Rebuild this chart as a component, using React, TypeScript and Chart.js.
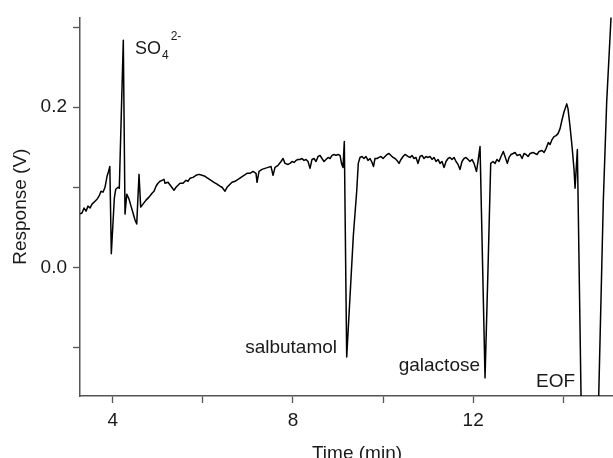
import React, { useEffect, useRef } from 'react';
import { Chart, registerables } from 'chart.js';

Chart.register(...registerables);

// ---- data ----
const times: number[] = [
  3.274, 3.319, 3.363, 3.408, 3.452, 3.496, 3.541, 3.607, 3.652, 3.696, 3.740, 3.785, 3.829, 3.874, 3.896, 3.936,
  3.969, 4.036, 4.067, 4.118, 4.146, 4.235, 4.273, 4.311, 4.362, 4.406, 4.451, 4.495, 4.533, 4.584, 4.621, 4.672,
  4.739, 4.806, 4.872, 4.917, 4.961, 5.005, 5.050, 5.094, 5.138, 5.161, 5.227, 5.294, 5.360, 5.405, 5.449, 5.494,
  5.560, 5.627, 5.671, 5.715, 5.782, 5.849, 5.915, 5.982, 6.048, 6.115, 6.182, 6.248, 6.315, 6.381, 6.426, 6.492,
  6.537, 6.603, 6.648, 6.714, 6.781, 6.847, 6.914, 6.981, 7.047, 7.114, 7.180, 7.203, 7.247, 7.313, 7.380, 7.447,
  7.513, 7.558, 7.602, 7.669, 7.735, 7.780, 7.824, 7.891, 7.935, 7.980, 8.024, 8.068, 8.113, 8.157, 8.201, 8.246,
  8.290, 8.335, 8.379, 8.423, 8.468, 8.512, 8.557, 8.601, 8.645, 8.690, 8.734, 8.779, 8.823, 8.867, 8.912, 8.956,
  9.001, 9.045, 9.078, 9.111, 9.140, 9.193, 9.340, 9.415, 9.450, 9.488, 9.533, 9.577, 9.621, 9.666, 9.710, 9.755,
  9.788, 9.821, 9.866, 9.910, 9.954, 9.999, 10.043, 10.088, 10.132, 10.176, 10.221, 10.265, 10.309, 10.354, 10.398, 10.443,
  10.487, 10.554, 10.598, 10.642, 10.687, 10.731, 10.776, 10.820, 10.864, 10.909, 10.953, 10.998, 11.042, 11.086, 11.131, 11.175,
  11.220, 11.264, 11.308, 11.353, 11.397, 11.442, 11.486, 11.530, 11.575, 11.619, 11.664, 11.708, 11.752, 11.797, 11.841, 11.886,
  11.930, 11.974, 12.019, 12.074, 12.107, 12.152, 12.263, 12.329, 12.389, 12.440, 12.485, 12.529, 12.573, 12.618, 12.669, 12.707,
  12.758, 12.796, 12.840, 12.885, 12.929, 12.973, 13.040, 13.085, 13.129, 13.173, 13.218, 13.262, 13.329, 13.373, 13.417, 13.462,
  13.528, 13.573, 13.617, 13.668, 13.706, 13.750, 13.795, 13.839, 13.883, 13.928, 13.972, 14.017, 14.077, 14.105, 14.150, 14.194,
  14.238, 14.261, 14.312, 14.394, 14.547, 14.786, 14.888, 14.963, 15.059, 15.126,
];

const responses: number[] = [
  0.0672, 0.0681, 0.0743, 0.0705, 0.0767, 0.0743, 0.0792, 0.0829, 0.0854, 0.0891, 0.0953, 0.0941, 0.1002, 0.1139, 0.1176, 0.1262,
  0.0173, 0.0866, 0.0978, 0.1002, 0.0990, 0.2834, 0.0668, 0.0916, 0.0854, 0.0767, 0.0681, 0.0594, 0.0545, 0.1163, 0.0755, 0.0792,
  0.0842, 0.0879, 0.0928, 0.0953, 0.1015, 0.1052, 0.1077, 0.1089, 0.1101, 0.1052, 0.1064, 0.1015, 0.0965, 0.1002, 0.1027, 0.1052,
  0.1052, 0.1089, 0.1077, 0.1114, 0.1126, 0.1151, 0.1163, 0.1151, 0.1139, 0.1114, 0.1089, 0.1064, 0.1040, 0.1015, 0.1002, 0.0953,
  0.1002, 0.1040, 0.1064, 0.1077, 0.1101, 0.1126, 0.1151, 0.1176, 0.1176, 0.1200, 0.1176, 0.1064, 0.1200, 0.1225, 0.1238, 0.1250,
  0.1262, 0.1151, 0.1250, 0.1275, 0.1324, 0.1361, 0.1300, 0.1287, 0.1300, 0.1324, 0.1312, 0.1337, 0.1349, 0.1349, 0.1361, 0.1337,
  0.1349, 0.1324, 0.1238, 0.1349, 0.1361, 0.1324, 0.1386, 0.1399, 0.1361, 0.1324, 0.1349, 0.1374, 0.1361, 0.1399, 0.1411, 0.1399,
  0.1411, 0.1399, 0.1300, 0.1250, 0.1572, -0.1114, 0.0396, 0.0953, 0.1300, 0.1374, 0.1386, 0.1361, 0.1386, 0.1337, 0.1361, 0.1312,
  0.1262, 0.1361, 0.1361, 0.1374, 0.1386, 0.1361, 0.1386, 0.1411, 0.1423, 0.1399, 0.1374, 0.1361, 0.1337, 0.1300, 0.1349, 0.1386,
  0.1411, 0.1386, 0.1374, 0.1399, 0.1361, 0.1374, 0.1300, 0.1386, 0.1399, 0.1361, 0.1386, 0.1374, 0.1386, 0.1349, 0.1374, 0.1324,
  0.1349, 0.1300, 0.1324, 0.1250, 0.1324, 0.1361, 0.1374, 0.1349, 0.1374, 0.1324, 0.1287, 0.1225, 0.1324, 0.1361, 0.1374, 0.1349,
  0.1324, 0.1349, 0.1300, 0.1200, 0.1324, 0.1510, -0.1374, -0.0012, 0.1300, 0.1324, 0.1300, 0.1349, 0.1324, 0.1386, 0.1448, 0.1386,
  0.1300, 0.1374, 0.1411, 0.1423, 0.1436, 0.1399, 0.1411, 0.1361, 0.1423, 0.1411, 0.1386, 0.1423, 0.1436, 0.1423, 0.1411, 0.1448,
  0.1460, 0.1436, 0.1485, 0.1559, 0.1535, 0.1597, 0.1634, 0.1646, 0.1671, 0.1733, 0.1844, 0.1943, 0.2042, 0.1980, 0.1757, 0.1510,
  0.1225, 0.0990, 0.1473, -0.1609, -0.7314, -0.1597, 0.0829, 0.2067, 0.3119, 0.3861,
];

const xTickValues = [4, 6, 8, 10, 12, 14];
const xTickLabels = ['4', '', '8', '', '12', ''];
const yTickValues = [-0.1, 0, 0.1, 0.2, 0.3];
const yTickLabels = ['', '0.0', '', '0.2', ''];

const peakNames = ['salbutamol', 'galactose', 'EOF'];
const peakNameTimes = [8.978, 12.152, 14.26];
const peakNameValues = [-0.1064, -0.1287, -0.1485];

const ionBase = 'SO';
const ionSub = '4';
const ionSup = '2-';
const ionTime = 4.495;
const ionValue = 0.2661;

const xTitle = 'Time (min)';
const yTitle = 'Response (V)';

const FONT = '"Liberation Sans", Arial, Helvetica, sans-serif';
const TEXT = '#1a1a1a';
const AXIS = '#555555';

const labelPlugin = {
  id: 'labels',
  afterDraw(chart: any) {
    const { ctx, scales, chartArea } = chart;
    const xs = scales.x;
    const ys = scales.y;
    ctx.save();
    ctx.fillStyle = TEXT;
    ctx.textBaseline = 'alphabetic';
    // peak names
    ctx.font = `19px ${FONT}`;
    ctx.textAlign = 'right';
    peakNames.forEach((n, i) => {
      ctx.fillText(n, xs.getPixelForValue(peakNameTimes[i]), ys.getPixelForValue(peakNameValues[i]));
    });
    // ion label
    const ix = xs.getPixelForValue(ionTime);
    const iy = ys.getPixelForValue(ionValue);
    ctx.textAlign = 'left';
    ctx.font = `18px ${FONT}`;
    ctx.fillText(ionBase, ix, iy);
    const w = ctx.measureText(ionBase).width;
    ctx.font = `12px ${FONT}`;
    ctx.fillText(ionSub, ix + w + 1, iy + 5);
    const ws = ctx.measureText(ionSub).width;
    ctx.fillText(ionSup, ix + w + ws + 3, iy - 14);
    // axis titles
    ctx.font = `19px ${FONT}`;
    ctx.textAlign = 'center';
    ctx.fillText(xTitle, chartArea.left + 277, 459);
    ctx.save();
    ctx.translate(26, (chartArea.top + chartArea.bottom) / 2);
    ctx.rotate(-Math.PI / 2);
    ctx.fillText(yTitle, 0, 0);
    ctx.restore();
    ctx.restore();
  },
};

export default function App() {
  const ref = useRef<HTMLCanvasElement | null>(null);
  useEffect(() => {
    if (!ref.current) return;
    const data = times.map((t, i) => ({ x: t, y: responses[i] }));
    const chart = new Chart(ref.current, {
      type: 'line',
      data: {
        datasets: [
          {
            data,
            borderColor: '#000000',
            borderWidth: 1.5,
            borderJoinStyle: 'round',
            pointRadius: 0,
            tension: 0,
            fill: false,
            clip: 0,
          } as any,
        ],
      },
      options: {
        animation: false,
        responsive: false,
        devicePixelRatio: 1,
        parsing: false as any,
        layout: { padding: { top: 15, left: 0, right: 0, bottom: 0 } },
        plugins: { legend: { display: false }, tooltip: { enabled: false }, title: { display: false } },
        scales: {
          x: {
            type: 'linear',
            min: 3.274,
            max: 15.103,
            afterBuildTicks: (s: any) => {
              s.ticks = xTickValues.map((v) => ({ value: v }));
            },
            afterFit: (s: any) => {
              s.height = 62;
            },
            ticks: {
              autoSkip: false,
              maxRotation: 0,
              padding: 6,
              color: TEXT,
              font: { family: FONT, size: 19 },
              callback: (v: any) => {
                const i = xTickValues.findIndex((t) => Math.abs(t - Number(v)) < 1e-9);
                return i >= 0 ? xTickLabels[i] : '';
              },
            },
            grid: { drawOnChartArea: false, drawTicks: true, tickLength: 7, tickColor: AXIS, tickWidth: 1.3 },
            border: { display: true, color: AXIS, width: 1.5 },
          },
          y: {
            type: 'linear',
            min: -0.16,
            max: 0.312,
            afterBuildTicks: (s: any) => {
              s.ticks = yTickValues.map((v) => ({ value: v }));
            },
            afterFit: (s: any) => {
              s.width = 80;
            },
            ticks: {
              autoSkip: false,
              padding: 6,
              color: TEXT,
              font: { family: FONT, size: 19 },
              callback: (v: any) => {
                const i = yTickValues.findIndex((t) => Math.abs(t - Number(v)) < 1e-9);
                return i >= 0 ? yTickLabels[i] : '';
              },
            },
            grid: { drawOnChartArea: false, drawTicks: true, tickLength: 7, tickColor: AXIS, tickWidth: 1.3 },
            border: { display: true, color: AXIS, width: 1.5 },
          },
        },
      },
      plugins: [labelPlugin],
    });
    return () => chart.destroy();
  }, []);
  return (
    <div style={{ position: 'absolute', left: 0, top: 0, width: 613, height: 458, background: '#fff' }}>
      <canvas ref={ref} width={613} height={458} style={{ display: 'block' }} />
    </div>
  );
}
